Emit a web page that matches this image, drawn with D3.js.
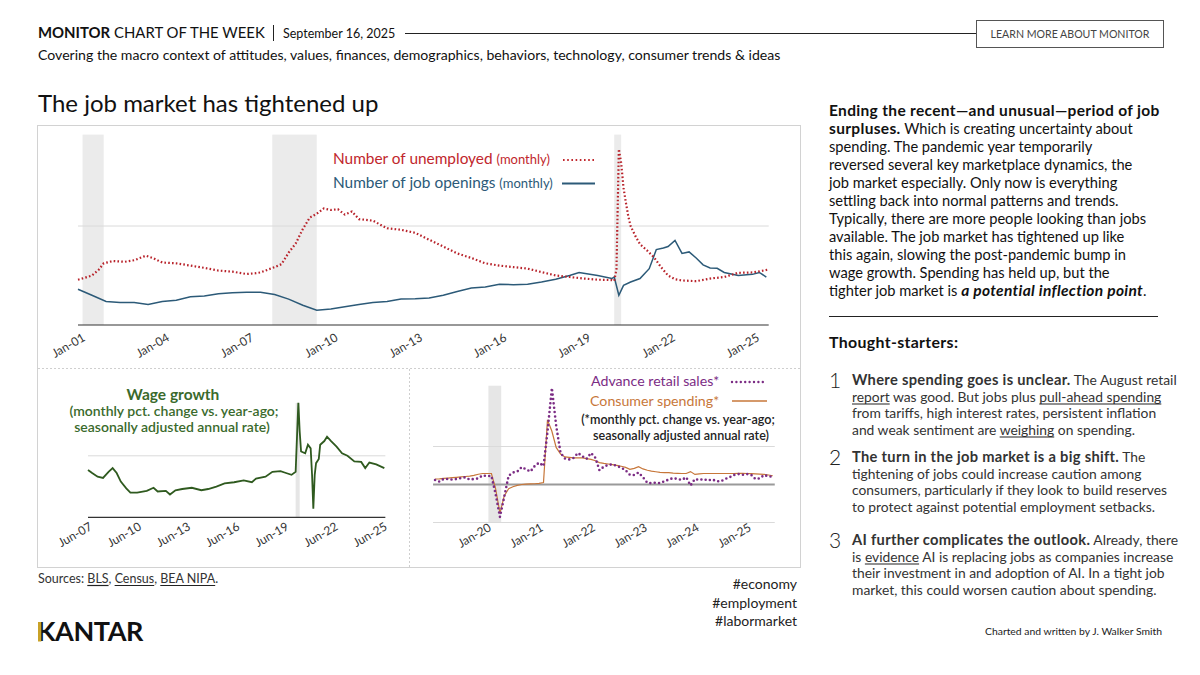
<!DOCTYPE html>
<html><head><meta charset="utf-8">
<script src="https://cdn.jsdelivr.net/npm/d3@7"></script>
<style>
html,body{margin:0;padding:0;background:#fff;}
svg{display:block;font-family:Lato,'Open Sans',sans-serif;}
</style></head><body>
<svg id="c" width="1200" height="675"></svg>
<script>
// ---------------- DATA ----------------
const unemployedDates = ["2001-01","2001-04","2001-07","2001-10","2001-12","2002-04","2002-09","2003-01","2003-06","2003-09","2004-01","2004-07","2005-01","2005-07","2006-01","2006-07","2007-01","2007-05","2007-07","2008-01","2008-04","2008-07","2008-10","2009-01","2009-04","2009-07","2009-10","2010-01","2010-04","2010-07","2010-10","2011-01","2011-07","2012-01","2012-07","2013-01","2013-07","2014-01","2014-07","2015-01","2015-07","2016-01","2016-07","2017-01","2017-07","2018-01","2018-07","2019-01","2019-07","2020-01","2020-02","2020-03","2020-04","2020-05","2020-06","2020-07","2020-08","2020-09","2020-11","2021-01","2021-04","2021-07","2021-10","2022-01","2022-04","2022-07","2023-01","2023-07","2024-01","2024-07","2025-01","2025-05","2025-08"];
const unemployedValues = [5.95,6.2,6.5,7.3,8.1,8.4,8.3,8.5,9.1,8.8,8.2,8.1,7.8,7.5,7.15,7.0,6.7,6.8,6.9,7.6,8.0,9.5,10.7,12.6,14.1,14.6,15.3,15.1,15.2,14.5,14.9,13.9,13.7,12.7,12.5,12.1,11.2,10.3,9.4,8.8,8.1,7.8,7.6,7.4,6.95,6.5,6.3,6.1,5.95,5.9,5.8,7.3,23.1,21.3,18.0,16.1,14.3,13.0,11.7,10.6,9.8,8.9,7.6,6.5,6.0,5.85,5.75,6.1,6.3,6.85,6.9,7.1,7.3];
const openingsDates = ["2001-01","2001-07","2002-01","2002-07","2003-01","2003-07","2004-01","2004-07","2005-01","2005-07","2006-01","2006-07","2007-01","2007-07","2008-01","2008-07","2009-01","2009-07","2010-01","2010-07","2011-01","2011-07","2012-01","2012-07","2013-01","2013-07","2014-01","2014-07","2015-01","2015-07","2016-01","2016-07","2017-01","2017-07","2018-01","2018-07","2018-11","2019-07","2020-01","2020-02","2020-04","2020-06","2020-09","2021-01","2021-05","2021-08","2021-11","2022-01","2022-04","2022-07","2022-10","2023-01","2023-04","2023-07","2023-10","2024-01","2024-07","2025-01","2025-04","2025-07"];
const openingsValues = [4.7,3.9,3.1,2.95,2.95,2.7,3.1,3.25,3.7,3.8,4.1,4.25,4.3,4.3,4.0,3.4,2.6,1.95,2.1,2.4,2.7,2.95,3.1,3.4,3.45,3.55,3.9,4.4,4.85,5.0,5.35,5.3,5.35,5.65,6.0,6.5,6.9,6.5,6.1,6.3,3.9,5.2,5.65,6.1,7.4,9.9,10.1,10.3,11.1,9.4,9.6,8.8,7.9,7.5,7.45,6.9,6.5,6.65,6.9,6.3];

const wageDates = ["2007-06","2007-09","2008-01","2008-05","2008-09","2008-12","2009-03","2009-06","2009-10","2010-01","2010-06","2011-01","2011-06","2011-09","2012-03","2012-06","2012-10","2013-03","2013-10","2014-05","2014-10","2015-04","2015-10","2016-05","2016-12","2017-06","2017-09","2018-04","2018-09","2019-03","2019-07","2019-11","2020-02","2020-04","2020-05","2020-06","2020-09","2020-11","2021-01","2021-02","2021-03","2021-04","2021-05","2021-07","2021-08","2021-11","2022-01","2022-04","2022-08","2022-12","2023-04","2023-09","2024-02","2024-05","2024-08","2025-01","2025-07"];
const wageValues = [3.85,3.6,3.3,3.2,3.7,4.0,3.6,2.9,2.35,2.0,2.0,2.15,2.4,2.1,2.15,1.85,2.2,2.3,2.4,2.2,2.3,2.5,2.75,2.85,3.0,2.85,3.15,3.3,3.7,3.75,3.6,3.45,3.7,9.3,7.0,5.35,5.2,5.9,5.6,3.45,0.7,3.45,4.4,4.75,5.9,6.2,6.55,6.2,5.75,5.2,5.0,4.55,4.5,4.0,4.45,4.3,4.0];

const retailStart = "2019-01";
const retailValues = [2.4,1.5,2.9,2.9,2.6,2.9,3.4,3.8,2.6,2.9,3.2,4.8,
  4.4,4.5,-4.8,-17.1,-6.5,4.6,6.3,6.8,9.2,8.0,6.8,9.7,
  11.5,9.7,27.7,50.8,31.0,16.6,13.7,13.2,14.0,16.6,14.9,13.5,
  16.6,14.0,7.5,9.4,10.3,10.6,9.7,8.9,7.5,5.1,5.0,6.3,
  3.8,0.85,0.7,1.0,0.7,1.7,2.6,3.4,2.9,2.4,3.8,-0.5,
  2.9,2.4,2.9,2.1,2.7,1.7,1.7,2.9,3.8,5.0,5.5,5.1,
  5.5,5.0,2.9,3.2,5.0,4.3,4.1];
const spendingValues = [2.9,3.0,3.2,3.4,3.6,3.8,4.0,4.2,4.4,4.8,5.4,5.8,
  5.8,5.8,-2.0,-15.0,-6.0,-2.2,-1.2,-0.5,0.0,0.2,0.3,0.4,
  0.6,1.0,34.0,28.0,19.5,16.0,14.5,14.3,14.0,14.0,14.0,13.6,
  13.2,12.5,11.5,11.1,10.8,10.5,10.1,9.6,9.0,8.0,8.5,9.4,
  8.2,7.5,7.0,6.7,6.4,6.3,6.2,6.0,5.9,5.8,5.8,6.8,
  5.3,5.6,5.8,5.8,5.8,5.8,5.8,5.8,5.8,5.8,5.9,5.9,
  5.8,5.7,5.6,5.5,5.3,5.0,4.6];

const recessionsTop = [["2001-03","2001-11"],["2007-12","2009-06"],["2020-02","2020-04"]];
const recessionCovid = [["2020-02","2020-04"]];
const topTicks = ["2001-01","2004-01","2007-01","2010-01","2013-01","2016-01","2019-01","2022-01","2025-01"];
const wageTicks = ["2007-06","2010-06","2013-06","2016-06","2019-06","2022-06","2025-06"];
const retailTicks = ["2020-01","2021-01","2022-01","2023-01","2024-01","2025-01"];
const topGrid = [13];
const wageGrid = [5];
const retailGrid = [-20, 20];

// ---------------- SETUP ----------------
const parse = d3.timeParse("%Y-%m");
const fmt = d3.timeFormat("%b-%y");
const svg = d3.select("#c");
const endOfMonth = s => d3.timeMonth.offset(parse(s), 1);

// ---------------- RICH TEXT HELPER ----------------
function rich(x, y, segs, fs, fill) {
  const t = svg.append("text").attr("x", x).attr("y", y).attr("font-size", fs).attr("fill", fill);
  const spans = segs.map(s => {
    const sp = t.append("tspan").text(s.t);
    if (s.b) sp.attr("font-weight", 700).attr("font-size", fs * 1.06).attr("letter-spacing", fs * 0.022);
    if (s.i) sp.attr("font-style", "italic");
    return [sp, s];
  });
  spans.forEach(([sp, s]) => {
    if (s.u) {
      const n = sp.node();
      const x0 = n.getStartPositionOfChar(0).x;
      const w = n.getComputedTextLength();
      svg.append("line").attr("x1", x0).attr("x2", x0 + w).attr("y1", y + 2.5).attr("y2", y + 2.5).attr("stroke", "#222").attr("stroke-width", 1.2);
    }
  });
  return t;
}

// ---------------- HEADER ----------------
const hdr = svg.append("text").attr("x", 38).attr("y", 38).attr("font-size", 14.9).attr("fill", "#111");
hdr.append("tspan").attr("font-weight", 700).text("MONITOR");
hdr.append("tspan").attr("font-weight", 400).text(" CHART OF THE WEEK");
svg.append("line").attr("x1", 273.5).attr("x2", 273.5).attr("y1", 25).attr("y2", 41).attr("stroke", "#222").attr("stroke-width", 1);
svg.append("text").attr("x", 283).attr("y", 38).attr("font-size", 12.5).attr("fill", "#111").text("September 16, 2025");
svg.append("line").attr("x1", 405).attr("x2", 976).attr("y1", 33.5).attr("y2", 33.5).attr("stroke", "#222").attr("stroke-width", 1);
svg.append("rect").attr("x", 976.5).attr("y", 20.5).attr("width", 187).attr("height", 27).attr("fill", "none").attr("stroke", "#555").attr("stroke-width", 1);
svg.append("text").attr("x", 1070).attr("y", 38).attr("text-anchor", "middle").attr("font-size", 10.6).attr("fill", "#444").text("LEARN MORE ABOUT MONITOR");
svg.append("text").attr("x", 38).attr("y", 60).attr("font-size", 14.1).attr("fill", "#111").text("Covering the macro context of attitudes, values, finances, demographics, behaviors, technology, consumer trends & ideas");
svg.append("text").attr("x", 38).attr("y", 112).attr("font-size", 24).attr("fill", "#111").text("The job market has tightened up");

// panel frame
svg.append("rect").attr("x", 37.5).attr("y", 125.5).attr("width", 763).attr("height", 442).attr("fill", "none").attr("stroke", "#d2d2d2");
svg.append("line").attr("x1", 38).attr("x2", 800).attr("y1", 368.5).attr("y2", 368.5).attr("stroke", "#cfcfcf").attr("stroke-dasharray", "2,2");
svg.append("line").attr("x1", 409.5).attr("x2", 409.5).attr("y1", 369).attr("y2", 567).attr("stroke", "#cfcfcf").attr("stroke-dasharray", "2,2");

function rotLabels(g, ticks, xs, y0, dx, fs) {
  g.selectAll(null).data(ticks).join("text")
    .attr("transform", d => `translate(${xs(parse(d)) + dx},${y0}) rotate(-30)`)
    .attr("text-anchor", "end").attr("font-size", fs).attr("fill", "#333").text(d => fmt(parse(d)));
}

// ---------------- TOP CHART ----------------
const xTop = d3.scaleTime().domain([parse("2001-01"), parse("2025-01")]).range([78, 752.4]);
const yTop = d3.scaleLinear().domain([0, 26]).range([325, 127]);
const gTop = svg.append("g");
const lastTop = parse(unemployedDates[unemployedDates.length - 1]);
gTop.selectAll(null).data(recessionsTop).join("rect")
  .attr("x", d => xTop(parse(d[0]))).attr("width", d => xTop(endOfMonth(d[1])) - xTop(parse(d[0])))
  .attr("y", yTop(25)).attr("height", yTop(0) - yTop(25)).attr("fill", "#ebebeb");
gTop.selectAll(null).data(topGrid).join("line")
  .attr("x1", xTop(parse("2001-01"))).attr("x2", xTop(lastTop))
  .attr("y1", d => yTop(d)).attr("y2", d => yTop(d)).attr("stroke", "#dadada");
gTop.append("line").attr("x1", xTop(parse("2001-01"))).attr("x2", xTop(lastTop))
  .attr("y1", yTop(0)).attr("y2", yTop(0)).attr("stroke", "#333").attr("stroke-width", 1.2);
const lineTop = d3.line().x(d => xTop(d[0])).y(d => yTop(d[1])).curve(d3.curveLinear);
const openData = openingsDates.map((d, i) => [parse(d), openingsValues[i]]);
const unData = unemployedDates.map((d, i) => [parse(d), unemployedValues[i]]);
gTop.append("path").attr("d", lineTop(openData)).attr("fill", "none").attr("stroke", "#2c5a78").attr("stroke-width", 1.5);
gTop.append("path").attr("d", lineTop(unData)).attr("fill", "none").attr("stroke", "#b8232b").attr("stroke-width", 2.2).attr("stroke-dasharray", "1.6,2.2");
rotLabels(gTop, topTicks, xTop, 340, 8, 12);
// legend
const l1 = gTop.append("text").attr("x", 333).attr("y", 164).attr("fill", "#c1272d").attr("font-size", 15.4);
l1.append("tspan").text("Number of unemployed ");
l1.append("tspan").attr("font-size", 13).text("(monthly)");
gTop.append("line").attr("x1", 563).attr("x2", 595).attr("y1", 160).attr("y2", 160).attr("stroke", "#c1272d").attr("stroke-width", 2.2).attr("stroke-dasharray", "1.6,2.6");
const l2 = gTop.append("text").attr("x", 333).attr("y", 188).attr("fill", "#2c5a78").attr("font-size", 15.4);
l2.append("tspan").text("Number of job openings ");
l2.append("tspan").attr("font-size", 13).text("(monthly)");
gTop.append("line").attr("x1", 562).attr("x2", 595).attr("y1", 183.5).attr("y2", 183.5).attr("stroke", "#2c5a78").attr("stroke-width", 2);

// ---------------- WAGE CHART ----------------
const xW = d3.scaleTime().domain([parse("2007-06"), parse("2025-06")]).range([88, 383]);
const yW = d3.scaleLinear().domain([0, 10]).range([517.3, 394.3]);
const gW = svg.append("g");
const lastW = parse(wageDates[wageDates.length - 1]);
gW.selectAll(null).data(recessionCovid).join("rect")
  .attr("x", d => xW(parse(d[0]))).attr("width", d => xW(endOfMonth(d[1])) - xW(parse(d[0])))
  .attr("y", yW(9.3)).attr("height", yW(0) - yW(9.3)).attr("fill", "#e6e6e6");
gW.selectAll(null).data(wageGrid).join("line")
  .attr("x1", xW(parse("2007-06"))).attr("x2", xW(lastW) + 1)
  .attr("y1", d => yW(d)).attr("y2", d => yW(d)).attr("stroke", "#dadada");
gW.append("line").attr("x1", xW(parse("2007-06"))).attr("x2", xW(lastW) + 1)
  .attr("y1", yW(0)).attr("y2", yW(0)).attr("stroke", "#333").attr("stroke-width", 1.2);
const wData = wageDates.map((d, i) => [parse(d), wageValues[i]]);
gW.append("path").attr("d", d3.line().x(d => xW(d[0])).y(d => yW(d[1]))(wData))
  .attr("fill", "none").attr("stroke", "#2f5a1f").attr("stroke-width", 1.8);
rotLabels(gW, wageTicks, xW, 529, 5, 12);
gW.append("text").attr("x", 173).attr("y", 400).attr("text-anchor", "middle").attr("font-size", 15.5).attr("font-weight", 700).attr("fill", "#3a6a2c").text("Wage growth");
gW.append("text").attr("x", 174).attr("y", 416).attr("text-anchor", "middle").attr("font-size", 14).attr("font-weight", 600).attr("fill", "#3a6a2c").text("(monthly pct. change vs. year-ago;");
gW.append("text").attr("x", 172).attr("y", 431.5).attr("text-anchor", "middle").attr("font-size", 14).attr("font-weight", 600).attr("fill", "#3a6a2c").text("seasonally adjusted annual rate)");

// ---------------- RETAIL CHART ----------------
const xR = d3.scaleTime().domain([parse("2020-01"), parse("2025-01")]).range([487, 747]);
const yR = d3.scaleLinear().domain([-20, 20]).range([522.5, 446.5]);
const gR = svg.append("g");
const rDates = retailValues.map((v, i) => d3.timeMonth.offset(parse(retailStart), i));
const lastR = rDates[rDates.length - 1];
gR.selectAll(null).data(recessionCovid).join("rect")
  .attr("x", d => xR(parse(d[0])) - 3).attr("width", d => xR(endOfMonth(d[1])) - xR(parse(d[0])))
  .attr("y", yR(52)).attr("height", yR(-20) - yR(52)).attr("fill", "#e6e6e6");
gR.selectAll(null).data(retailGrid).join("line")
  .attr("x1", xR(parse(retailStart)) - 2).attr("x2", xR(lastR) + 2)
  .attr("y1", d => yR(d)).attr("y2", d => yR(d)).attr("stroke", "#dadada");
gR.append("line").attr("x1", xR(parse(retailStart)) - 2).attr("x2", xR(lastR) + 2)
  .attr("y1", yR(0)).attr("y2", yR(0)).attr("stroke", "#9a9a9a").attr("stroke-width", 2);
const lineR = d3.line().x(d => xR(d[0])).y(d => yR(d[1]));
gR.append("path").attr("d", lineR(rDates.map((d, i) => [d, spendingValues[i]])))
  .attr("fill", "none").attr("stroke", "#c7773a").attr("stroke-width", 1.2);
gR.append("path").attr("d", lineR(rDates.map((d, i) => [d, retailValues[i]])))
  .attr("fill", "none").attr("stroke", "#7b2c84").attr("stroke-width", 2.6).attr("stroke-linecap", "round").attr("stroke-dasharray", "0,4.4");
rotLabels(gR, retailTicks, xR, 530, 5, 12);
gR.append("text").attr("x", 591).attr("y", 386).attr("font-size", 14.2).attr("fill", "#7b2c84").text("Advance retail sales*");
gR.append("line").attr("x1", 732).attr("x2", 764).attr("y1", 382).attr("y2", 382).attr("stroke", "#7b2c84").attr("stroke-width", 2.4).attr("stroke-linecap", "round").attr("stroke-dasharray", "0,4.4");
gR.append("text").attr("x", 590).attr("y", 405.5).attr("font-size", 14.2).attr("fill", "#c7773a").text("Consumer spending*");
gR.append("line").attr("x1", 732).attr("x2", 767).attr("y1", 401).attr("y2", 401).attr("stroke", "#c7773a").attr("stroke-width", 1.6);
gR.append("text").attr("x", 678).attr("y", 423.5).attr("text-anchor", "middle").attr("font-size", 12.6).attr("font-weight", 600).attr("fill", "#222").text("(*monthly pct. change vs. year-ago;");
gR.append("text").attr("x", 681).attr("y", 439.5).attr("text-anchor", "middle").attr("font-size", 12.6).attr("font-weight", 600).attr("fill", "#222").text("seasonally adjusted annual rate)");

// Sources
rich(38, 583, [{t: "Sources: "}, {t: "BLS", u: 1}, {t: ", "}, {t: "Census", u: 1}, {t: ", "}, {t: "BEA NIPA", u: 1}, {t: "."}], 12.5, "#333");
["#economy", "#employment", "#labormarket"].forEach((h, i) => {
  svg.append("text").attr("x", 797).attr("y", 589 + i * 18.5).attr("text-anchor", "end").attr("font-size", 14).attr("fill", "#222").text(h);
});
// Kantar logo
svg.append("text").attr("x", 37).attr("y", 641).attr("font-size", 27).attr("font-weight", 700).attr("fill", "#111").attr("letter-spacing", -0.4).text("KANTAR");
svg.append("rect").attr("x", 38).attr("y", 622).attr("width", 3.3).attr("height", 19.5).attr("fill", "#c9a227");

// ---------------- RIGHT COLUMN ----------------
const para = [
  [{t: "Ending the recent\u2014and unusual\u2014period of job", b: 1}],
  [{t: "surpluses.", b: 1}, {t: " Which is creating uncertainty about"}],
  [{t: "spending. The pandemic year temporarily"}],
  [{t: "reversed several key marketplace dynamics, the"}],
  [{t: "job market especially. Only now is everything"}],
  [{t: "settling back into normal patterns and trends."}],
  [{t: "Typically, there are more people looking than jobs"}],
  [{t: "available. The job market has tightened up like"}],
  [{t: "this again, slowing the post-pandemic bump in"}],
  [{t: "wage growth. Spending has held up, but the"}],
  [{t: "tighter job market is "}, {t: "a potential inflection point", b: 1, i: 1}, {t: "."}]
];
para.forEach((segs, i) => rich(829, 116 + i * 18, segs, 14.65, "#111"));
svg.append("line").attr("x1", 829).attr("x2", 1158).attr("y1", 316.5).attr("y2", 316.5).attr("stroke", "#222");
rich(829, 348, [{t: "Thought-starters:", b: 1}], 15, "#111");

const items = [
  {n: "1", y: 385, lines: [
    [{t: "Where spending goes is unclear.", b: 1}, {t: " The August retail"}],
    [{t: "report", u: 1}, {t: " was good. But jobs plus "}, {t: "pull-ahead spending", u: 1}],
    [{t: "from tariffs, high interest rates, persistent inflation"}],
    [{t: "and weak sentiment are "}, {t: "weighing", u: 1}, {t: " on spending."}]]},
  {n: "2", y: 462, lines: [
    [{t: "The turn in the job market is a big shift.", b: 1}, {t: " The"}],
    [{t: "tightening of jobs could increase caution among"}],
    [{t: "consumers, particularly if they look to build reserves"}],
    [{t: "to protect against potential employment setbacks."}]]},
  {n: "3", y: 545, lines: [
    [{t: "AI further complicates the outlook.", b: 1}, {t: " Already, there"}],
    [{t: "is "}, {t: "evidence", u: 1}, {t: " AI is replacing jobs as companies increase"}],
    [{t: "their investment in and adoption of AI. In a tight job"}],
    [{t: "market, this could worsen caution about spending."}]]}
];
items.forEach(it => {
  svg.append("text").attr("x", 829).attr("y", it.y + 3).attr("font-size", 21).attr("font-weight", 300).attr("fill", "#222").text(it.n);
  it.lines.forEach((segs, i) => rich(852, it.y + i * 16.5, segs, 13.85, "#333"));
});
svg.append("text").attr("x", 1162).attr("y", 635).attr("text-anchor", "end").attr("font-size", 10.4).attr("fill", "#222").text("Charted and written by J. Walker Smith");
</script>
</body></html>
